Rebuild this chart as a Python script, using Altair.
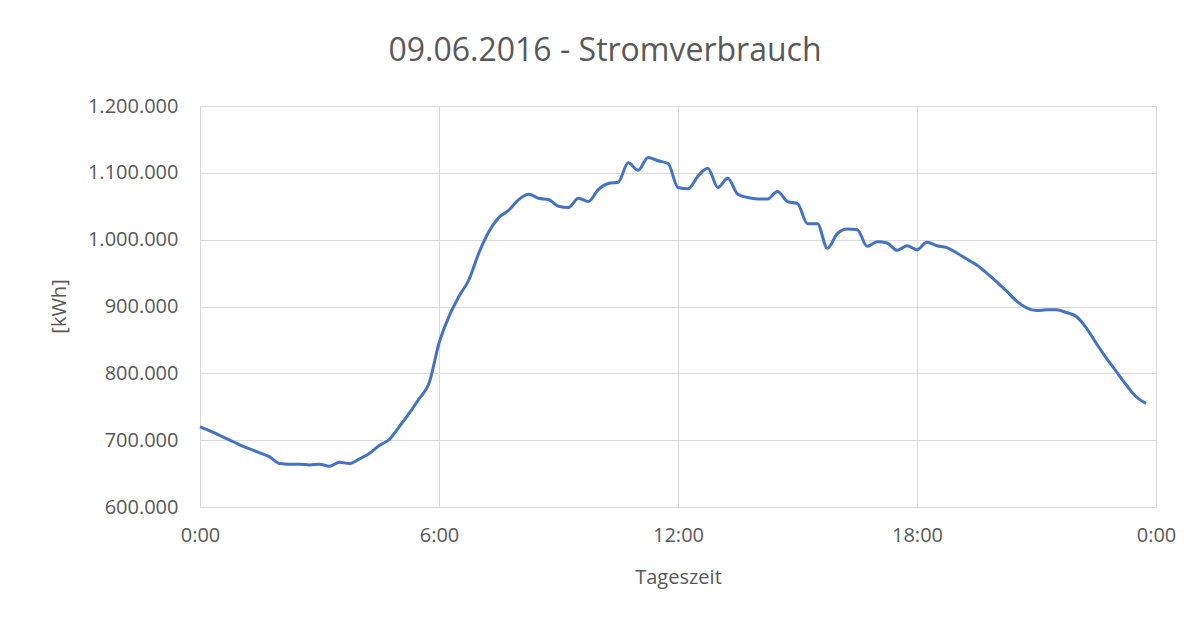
import altair as alt
import pandas as pd

# Time of day in hours (15-minute steps)
hours = [i * 0.25 for i in range(96)]

# Estimated consumption values [kWh]
verbrauch = [
    720000, 714000, 707000, 700000, 693000, 687000, 681000, 675000,
    665000, 664000, 664000, 663000, 664000, 661000, 667000, 665000,
    672000, 680000, 692000, 701000, 720000, 740000, 762000, 785000,
    845000, 885000, 915000, 940000, 980000, 1012000, 1033000, 1044000,
    1060000, 1068000, 1062000, 1060000, 1050000, 1048000, 1062000, 1057000,
    1075000, 1084000, 1086000, 1115000, 1104000, 1123000, 1118000, 1114000,
    1078000, 1076000, 1095000, 1107000, 1078000, 1092000, 1068000, 1063000,
    1061000, 1061000, 1072000, 1057000, 1054000, 1024000, 1024000, 987000,
    1009000, 1016000, 1015000, 990000, 997000, 995000, 984000, 991000,
    985000, 996000, 991000, 988000, 980000, 971000, 962000, 950000,
    937000, 923000, 908000, 898000, 894000, 895000, 895000, 891000,
    885000, 868000, 845000, 823000, 803000, 783000, 765000, 755000,
]

x_ticks = [0, 6, 12, 18, 24]
y_ticks = [600000, 700000, 800000, 900000, 1000000, 1100000, 1200000]

df = pd.DataFrame({"Stunde": hours, "kWh": verbrauch})

FONT = "Open Sans"
GRAY = "#595959"

chart = (
    alt.Chart(df)
    .mark_line(color="#4472C4", strokeWidth=3, interpolate="monotone")
    .encode(
        x=alt.X(
            "Stunde:Q",
            scale=alt.Scale(domain=[0, 24], nice=False, zero=False),
            axis=alt.Axis(
                values=x_ticks,
                labelExpr="(datum.value % 24) + ':00'",
                title="Tageszeit",
                ticks=False,
                domain=False,
                labelPadding=18,
                titleY=70,
                titleBaseline="middle",
                labelFlush=False,
            ),
        ),
        y=alt.Y(
            "kWh:Q",
            scale=alt.Scale(domain=[600000, 1200000], nice=False, zero=False),
            axis=alt.Axis(
                values=y_ticks,
                labelExpr="replace(format(datum.value, ',d'), /,/g, '.')",
                title="[kWh]",
                ticks=False,
                domain=False,
                labelPadding=22,
                titleX=-141,
                titleY=200,
                titleAngle=-90,
                titleBaseline="middle",
                titleAlign="center",
            ),
        ),
    )
    .properties(
        width=956,
        height=401,
        title=alt.TitleParams(
            "09.06.2016 - Stromverbrauch",
            font=FONT,
            fontSize=32,
            fontWeight="normal",
            color=GRAY,
            anchor="middle",
            dx=-73,
            offset=28,
        ),
        autosize=alt.AutoSizeParams(type="none"),
        padding={"left": 192, "top": 98, "right": 36, "bottom": 105},
    )
    .configure_view(stroke="#d9d9d9", strokeWidth=1)
    .configure_axis(
        labelFont=FONT,
        titleFont=FONT,
        labelFontSize=20,
        titleFontSize=20,
        labelColor=GRAY,
        titleColor=GRAY,
        titleFontWeight="normal",
        gridColor="#d9d9d9",
        gridWidth=1,
        gridOpacity=1,
    )
)

chart.save("out.html", embed_options={"renderer": "svg", "actions": False})
